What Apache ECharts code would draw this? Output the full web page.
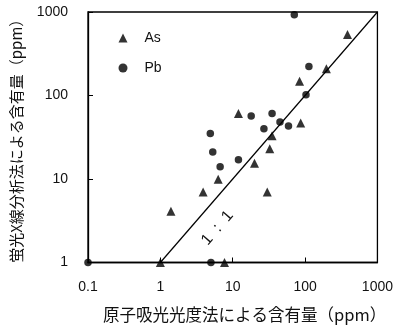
<!DOCTYPE html>
<html>
<head>
<meta charset="utf-8">
<script src="https://cdn.jsdelivr.net/npm/echarts@6/dist/echarts.min.js"></script>
<style>
html,body{margin:0;padding:0;background:#fff;}
#chart{width:396px;height:328px;}
</style>
</head>
<body>
<div id="chart"></div>
<script>
// Pb (circles)
const pbX = [0.1, 5, 4.9, 5.3, 6.7, 12, 18, 27, 35, 45, 59, 103, 113, 71];
const pbY = [1, 1, 35, 21, 14, 17, 57, 40, 61, 48, 43, 102, 222, 930];
// As (triangles)
const asX = [1, 7.7, 1.4, 3.9, 6.3, 20, 30, 32.5, 35, 12, 87, 84, 197, 386];
const asY = [1, 1, 4.1, 7, 9.9, 15.4, 7, 23, 33, 61, 47, 148, 209, 538];
// 1:1 line
const lineX = [1, 1000];
const lineY = [1, 1000];
const xTicks = [0.1, 1, 10, 100, 1000];
const yTicks = [1, 10, 100, 1000];
const seriesNames = ['As', 'Pb'];
const xName = '原子吸光光度法による含有量（ppm）';
const yName = '蛍光X線分析法による含有量（ppm）';
const ratioLabel = '1  :  1';

const zip = (a, b) => a.map((v, i) => [v, b[i]]);
const numFont = '"Liberation Sans", Arial, sans-serif';
const cjkFont = '"Noto Sans CJK JP", "Noto Sans", sans-serif';

const chart = echarts.init(document.getElementById('chart'), null, {renderer: 'canvas'});
const axisCommon = {
  type: 'log',
  logBase: 10,
  axisLine: {show: true, lineStyle: {color: '#000', width: 1.3}},
  axisTick: {show: true, inside: true, length: 5, lineStyle: {color: '#000', width: 1}},
  minorTick: {show: false},
  splitLine: {show: false},
  axisLabel: {color: '#111', fontSize: 14, fontFamily: numFont, margin: 18,
    formatter: v => String(+v.toPrecision(6))}
};
chart.setOption({
  animation: false,
  backgroundColor: '#fff',
  grid: {left: 88, right: 15, top: 12, bottom: 60, show: true, borderColor: '#000', borderWidth: 1.3, backgroundColor: 'transparent'},
  xAxis: Object.assign({}, axisCommon, {
    min: xTicks[0], max: xTicks[xTicks.length - 1],
    name: xName, nameLocation: 'middle', nameGap: 44,
    nameTextStyle: {color: '#111', fontSize: 16.5, fontFamily: cjkFont, padding: [0, 0, 0, 24]}
  }),
  yAxis: Object.assign({}, axisCommon, {
    min: yTicks[0], max: yTicks[yTicks.length - 1],
    axisLabel: Object.assign({}, axisCommon.axisLabel, {margin: 20}),
    name: yName, nameLocation: 'middle', nameGap: 64, nameRotate: 90,
    nameTextStyle: {color: '#111', fontSize: 15, fontFamily: cjkFont}
  }),
  legend: {
    orient: 'vertical', left: 113.5, top: 26,
    itemWidth: 9, itemHeight: 9, itemGap: 16,
    data: seriesNames,
    textStyle: {color: '#111', fontSize: 14, fontFamily: numFont, lineHeight: 14, padding: [0, 0, 0, 12]}
  },
  series: [
    {
      name: 'As', type: 'scatter', symbol: 'triangle', symbolSize: 9, clip: false,
      itemStyle: {color: '#000'}, data: zip(asX, asY), z: 3
    },
    {
      name: 'Pb', type: 'scatter', symbol: 'circle', symbolSize: 7.5, clip: false,
      itemStyle: {color: '#000'}, data: zip(pbX, pbY), z: 3
    },
    {
      name: '1:1', type: 'line', data: zip(lineX, lineY), symbol: 'none',
      lineStyle: {color: '#000', width: 1.2}, silent: true, z: 2
    }
  ],
  graphic: [{
    type: 'text', x: 217.5, y: 228, rotation: 0.855,
    style: {text: ratioLabel, fill: '#111', font: '16px "Liberation Sans", Arial, sans-serif',
      align: 'center', verticalAlign: 'middle', textAlign: 'center', textVerticalAlign: 'middle'}
  }]
});
</script>
</body>
</html>
